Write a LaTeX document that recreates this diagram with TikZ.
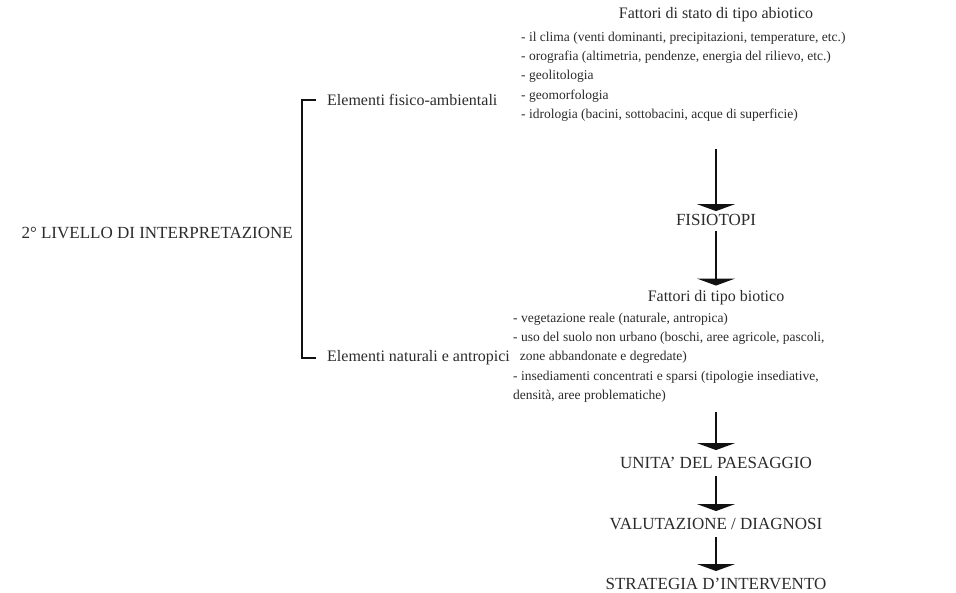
\documentclass[tikz,border=0pt]{standalone}
\usepackage{fontspec}
\setmainfont{Liberation Serif}
\usetikzlibrary{arrows.meta}

\begin{document}
\begin{tikzpicture}[x=1pt,y=-1pt,
    every node/.style={text=textColour, inner sep=0pt},
    lowtext/.style={font=\fontsize{16}{18}\selectfont},
    captext/.style={font=\fontsize{17}{19}\selectfont},
    listtext/.style={font=\fontsize{13.5}{19.2}\selectfont, align=left, anchor=north west},
    flow/.style={line width=1.6pt, draw=arrowColour, -{Triangle[width=38pt,length=7pt]}},
    bracket/.style={line width=2.4pt, draw=arrowColour}]
    % Define colours
    \definecolor{textColour}{HTML}{2B2B2B}
    \definecolor{arrowColour}{HTML}{111111}

    % Fix the page size
    \useasboundingbox (0,0) rectangle (956,592);

    % Left part: level and its two groups of elements
    \node[captext, anchor=east] (livello) at (293,233) {2° LIVELLO DI INTERPRETAZIONE};
    \node[lowtext, anchor=west] (fisamb) at (327,100) {Elementi fisico-ambientali};
    \node[lowtext, anchor=west] (natantr) at (327,358) {Elementi naturali e antropici};
    \draw[bracket] ([xshift=-11pt]fisamb.west) -- ++(-14,0) |- ([xshift=-11pt]natantr.west);

    % Abiotic factors
    \node[lowtext] (abiotico) at (716,15) {Fattori di stato di tipo abiotico};
    \node[listtext] (abiolist) at (521,32) {- il clima (venti dominanti, precipitazioni, temperature, etc.)\\
        - orografia (altimetria, pendenze, energia del rilievo, etc.)\\
        - geolitologia\\
        - geomorfologia\\
        - idrologia (bacini, sottobacini, acque di superficie)};

    % Chain of results
    \node[captext] (fisiotopi) at (716,220) {FISIOTOPI};
    \node[lowtext] (biotico) at (716,298) {Fattori di tipo biotico};
    \node[listtext] (biolist) at (513,313) {- vegetazione reale (naturale, antropica)\\
        - uso del suolo non urbano (boschi, aree agricole, pascoli,\\
        \hspace{0.5em}zone abbandonate e degredate)\\
        - insediamenti concentrati e sparsi (tipologie insediative,\\
        densità, aree problematiche)};
    \node[captext] (unita) at (716,463) {UNITA' DEL PAESAGGIO};
    \node[captext] (valutazione) at (716,524) {VALUTAZIONE / DIAGNOSI};
    \node[captext] (strategia) at (716,584) {STRATEGIA D'INTERVENTO};

    % Arrows between the steps
    \draw[flow, shorten <=28pt, shorten >=3pt] (fisiotopi.north |- abiolist.south) -- (fisiotopi.north);
    \draw[flow, shorten <=5pt, shorten >=5pt] (fisiotopi.south) -- (biotico.north);
    \draw[flow, shorten <=10pt, shorten >=7pt] (unita.north |- biolist.south) -- (unita.north);
    \draw[flow, shorten <=7pt, shorten >=7pt] (unita.south) -- (valutazione.north);
    \draw[flow, shorten <=7pt, shorten >=7pt] (valutazione.south) -- (strategia.north);

\end{tikzpicture}
\end{document}
